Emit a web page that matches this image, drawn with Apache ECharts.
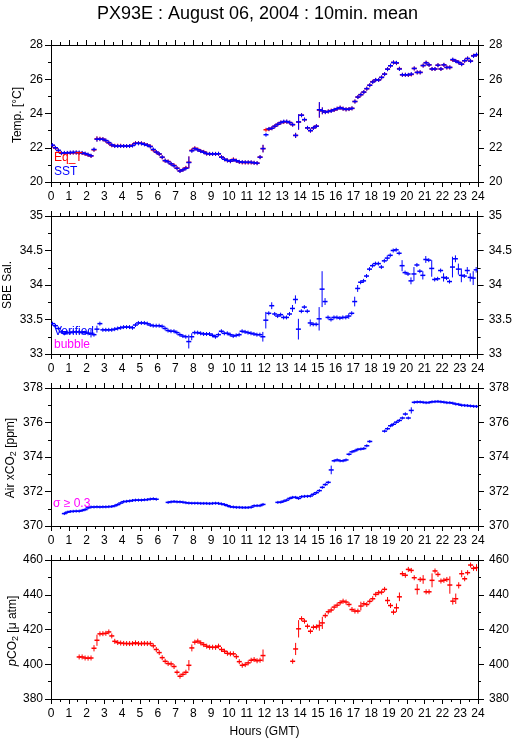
<!DOCTYPE html>
<html>
<head>
<meta charset="utf-8">
<script src="https://cdn.jsdelivr.net/npm/echarts@6/dist/echarts.min.js"></script>
<style>
html, body { margin: 0; padding: 0; background: #fff; }
#chart { width: 515px; height: 739px; }
</style>
</head>
<body>
<div id="chart"></div>
<script>
// 10 min means, 144 bins per day (bin i centred at (i + 0.5) / 6 h), null = no data
const sst = [
  22.15, 22.0, 21.85, 21.7, 21.7, 21.7, 21.72, 21.73, 21.73, 21.72, 21.7, 21.66,
  21.6, 21.53, 21.9, 22.5, 22.5, 22.5, 22.42, 22.3, 22.17, 22.1, 22.1, 22.1,
  22.1, 22.1, 22.1, 22.13, 22.25, 22.26, 22.25, 22.2, 22.15, 22.07, 21.9, 21.75,
  21.64, 21.45, 21.25, 21.18, 21.06, 20.95, 20.8, 20.64, 20.71, 20.8, 21.14, 21.82,
  21.95, 21.88, 21.8, 21.74, 21.66, 21.64, 21.64, 21.64, 21.65, 21.45, 21.33, 21.26,
  21.22, 21.3, 21.24, 21.18, 21.16, 21.15, 21.15, 21.15, 21.12, 21.1, 21.45, 21.95,
  22.76, 23.1, 23.14, 23.26, 23.37, 23.47, 23.53, 23.53, 23.47, 23.35, 22.72, 23.51,
  23.9, 23.64, 23.16, 23.0, 23.16, 23.26, 24.22, 24.16, 24.08, 24.12, 24.15, 24.22,
  24.28, 24.34, 24.28, 24.24, 24.26, 24.3, 24.7, 24.96, 25.1, 25.25, 25.45, 25.65,
  25.84, 25.96, 25.96, 26.11, 26.3, 26.59, 26.79, 26.98, 26.96, 26.6, 26.26, 26.26,
  26.26, 26.3, 26.63, 26.4, 26.4, 26.8, 26.96, 26.84, 26.6, 26.6, 26.82, 26.6,
  26.84, 26.69, 26.69, 27.15, 27.06, 26.98, 26.88, 27.08, 27.21, 27.06, 27.36, 27.44
];
const eqT = [
  22.13, 21.98, 21.83, 21.68, 21.67, 21.68, 21.7, 21.71, 21.71, 21.7, 21.69, 21.64,
  21.58, 21.52, 21.88, 22.52, 22.53, 22.5, 22.41, 22.28, 22.14, 22.12, 22.12, 22.12,
  22.1, 22.1, 22.1, 22.15, 22.27, 22.27, 22.26, 22.21, 22.16, 22.08, 21.87, 21.74,
  21.63, 21.44, 21.24, 21.2, 21.06, 20.97, 20.81, 20.65, 20.72, 20.83, 21.15, 21.85,
  21.97, 21.9, 21.81, 21.76, 21.66, 21.64, 21.64, 21.64, 21.64, 21.46, 21.33, 21.26,
  21.21, 21.32, 21.24, 21.17, 21.14, 21.14, 21.14, 21.14, 21.12, 21.1, 21.45, 21.95,
  23.05, 23.08, 23.14, 23.26, 23.37, 23.47, 23.5, 23.52, 23.47, 23.35, 22.72, 23.5,
  23.9, 23.64, 23.16, 23.0, 23.16, 23.26, 24.2, 24.15, 24.08, 24.12, 24.17, 24.2,
  24.28, 24.34, 24.28, 24.24, 24.26, 24.3, 24.7, 24.96, 25.1, 25.25, 25.45, 25.65,
  25.86, 25.96, 25.96, 26.11, 26.3, 26.59, 26.79, 26.98, 26.94, 26.62, 26.26, 26.26,
  26.25, 26.28, 26.63, 26.4, 26.4, 26.8, 26.97, 26.84, 26.6, 26.6, 26.82, 26.6,
  26.84, 26.69, 26.69, 27.12, 27.07, 26.98, 26.88, 27.08, 27.21, 27.06, 27.38, 27.43
];
const sal = [
  33.44, 33.41, 33.37, 33.32, 33.3, 33.31, 33.31, 33.32, 33.32, 33.32, 33.31, 33.31,
  33.3, 33.3, 33.28, 33.36, 33.44, 33.35, 33.35, 33.35, 33.35, 33.36, 33.37, 33.38,
  33.39, 33.39, 33.39, 33.38, 33.42, 33.45, 33.45, 33.45, 33.44, 33.42, 33.41, 33.41,
  33.41, 33.4, 33.37, 33.34, 33.33, 33.33, 33.31, 33.28, 33.26, 33.25, 33.18, 33.25,
  33.31, 33.31, 33.3, 33.29, 33.29, 33.29, 33.27, 33.25, 33.28, 33.33, 33.3, 33.3,
  33.28, 33.26, 33.27, 33.28, 33.33, 33.32, 33.31, 33.3, 33.29, 33.28, 33.28, 33.25,
  33.49, 33.59, 33.7, 33.58, 33.55, 33.57, 33.53, 33.53, 33.58, 33.66, 33.79, 33.36,
  33.62, 33.68, 33.62, 33.45, 33.43, 33.43, 33.51, 33.94, 33.76, 33.53, 33.5, 33.53,
  33.53, 33.52, 33.53, 33.53, 33.55, 33.59, 33.76, 33.95, 34.04, 34.06, 34.13, 34.23,
  34.28, 34.31, 34.31, 34.26, 34.35, 34.39, 34.43, 34.5, 34.51, 34.46, 34.28, 34.18,
  34.16, 34.06, 34.16, 34.29, 34.2, 34.14, 34.37, 34.36, 34.24, 34.08, 34.09, 34.21,
  34.11, 34.1, 34.05, 34.26, 34.38, 34.23, 34.14, 34.13, 34.21, 34.11, 34.1, 34.22
];
const airCO2 = [
  null, null, null, null, 370.72, 370.8, 370.84, 370.85, 370.86, 370.86, 370.9, 370.95,
  371.05, 371.1, 371.1, 371.11, 371.1, 371.11, 371.11, 371.12, 371.13, 371.17, 371.24, 371.33,
  371.41, 371.43, 371.45, 371.48, 371.5, 371.5, 371.5, 371.52, 371.53, 371.56, 371.58, 371.55,
  null, null, null, 371.37, 371.4, 371.42, 371.4, 371.4, 371.38, 371.35, 371.33, 371.32,
  371.32, 371.32, 371.31, 371.31, 371.31, 371.3, 371.31, 371.32, 371.31, 371.28, 371.24, 371.18,
  371.12, 371.1, 371.08, 371.08, 371.07, 371.07, 371.07, 371.09, 371.17, 371.18, 371.18, 371.25,
  null, null, null, null, 371.37, 371.38, 371.44, 371.5, 371.6, 371.66, 371.66, 371.6,
  371.7, 371.72, 371.72, 371.74, 371.84, 371.93, 372.05, 372.24, 372.4, 372.53, 373.25, 373.78,
  373.83, 373.78, 373.78, 373.83, 374.16, 374.3, 374.36, 374.44, 374.46, 374.49, 374.65, 374.9,
  null, null, null, null, 375.5, 375.64, 375.81, 375.9, 376.02, 376.12, 376.26, 376.49,
  376.26, 376.7, 377.17, 377.19, 377.19, 377.17, 377.15, 377.16, 377.2, 377.21, 377.22, 377.2,
  377.18, 377.15, 377.15, 377.12, 377.07, 377.05, 377.0, 376.99, 376.98, 376.96, 376.94, 376.93
];
const pCO2 = [
  null, null, null, null, null, null, null, null, null, 404.2, 404.2, 403.6,
  403.5, 403.6, 409.2, 413.8, 417.5, 417.6, 417.8, 418.6, 416.3, 413.2, 412.5, 412.2,
  412.0, 411.9, 411.9, 411.9, 412.3, 411.9, 411.9, 412.0, 411.9, 411.9, 410.6, 408.5,
  406.7, 403.8, 401.7, 400.4, 400.2, 398.7, 395.4, 393.1, 394.2, 395.4, 399.4, 409.4,
  412.7, 413.3, 412.3, 411.3, 410.4, 409.8, 409.8, 409.7, 410.4, 408.5, 407.5, 406.3,
  406.0, 406.0, 404.4, 401.5, 399.4, 399.8, 400.8, 402.3, 402.7, 402.0, 402.3, 405.0,
  null, null, null, null, null, null, null, null, null, 401.7, 408.8, 420.4,
  426.2, 424.8, 421.9, 419.0, 421.3, 421.5, 422.3, 423.8, 428.0, 430.2, 431.2, 432.9,
  434.0, 435.4, 436.3, 435.8, 434.4, 431.5, 430.6, 430.6, 433.5, 434.8, 434.4, 436.2,
  437.7, 440.2, 441.2, 441.5, 443.1, 436.7, 433.8, 430.0, 432.5, 438.8, 452.1, 451.2,
  454.6, 454.0, 449.8, 443.1, 448.8, 448.8, 441.7, 441.7, 448.3, 453.7, 451.7, 447.9,
  448.3, 448.8, 445.6, 436.3, 437.7, 445.4, 452.1, 449.2, 452.7, 457.1, 455.2, 455.6
];
// standard deviations big enough to show, by bin index
const sstSd = {15: 0.15, 46: 0.35, 71: 0.22, 73: 0.1, 82: 0.15, 83: 0.45, 85: 0.12, 90: 0.45, 91: 0.2};
const salSd = {13: 0.06, 15: 0.05, 46: 0.1, 47: 0.05, 71: 0.07, 72: 0.12, 74: 0.05, 81: 0.05, 82: 0.06,
  83: 0.15, 87: 0.05, 90: 0.17, 91: 0.26, 92: 0.05, 100: 0.04, 102: 0.07, 103: 0.05, 113: 0.04,
  118: 0.08, 121: 0.05, 122: 0.1, 125: 0.06, 126: 0.05, 128: 0.12, 132: 0.06, 135: 0.15, 136: 0.05,
  137: 0.08, 138: 0.1, 140: 0.05, 141: 0.06, 142: 0.1, 143: 0.04};
const airSd = {94: 0.25, 119: 0.1, 121: 0.18};
const pco2Sd = {14: 1.8, 15: 3.2, 46: 3, 47: 2, 71: 3.5, 82: 3.5, 83: 5, 90: 3, 91: 3.5, 104: 2.5,
  113: 2, 115: 1.5, 116: 2.5, 117: 2.5, 123: 3, 125: 2.5, 128: 4, 134: 5, 135: 2, 136: 3, 137: 1.8,
  138: 2, 143: 2};

const hours = sst.map((v, i) => (i + 0.5) / 6);

const yRanges = [[20, 28, 2], [33, 35, 0.5], [370, 378, 2], [380, 460, 20]];
const gridTops = [45, 216, 388, 560];
const gridHeights = [137, 138, 138, 139];

const FONT = 'Liberation Sans, Arial, Helvetica, sans-serif';
const BLUE = '#0000ff', RED = '#ff0000', MAGENTA = '#ff00ff';

function toData(vals, sd) {
  const out = [];
  vals.forEach((v, i) => {
    if (v !== null) out.push([hours[i], v, sd[i] || 0]);
  });
  return out;
}

function crossRender(minHalf) {
  return function (params, api) {
    const x = api.value(0), y = api.value(1), sd = api.value(2);
    const c = api.coord([x, y]);
    const top = api.coord([x, y + sd])[1];
    const bot = api.coord([x, y - sd])[1];
    const dy = Math.max(minHalf, (bot - top) / 2);
    const color = api.visual('color');
    return {
      type: 'group',
      children: [
        {type: 'line', shape: {x1: c[0] - 2.5, y1: c[1], x2: c[0] + 2.5, y2: c[1]},
          style: {stroke: color, lineWidth: 1.5}},
        {type: 'line', shape: {x1: c[0], y1: c[1] - dy, x2: c[0], y2: c[1] + dy},
          style: {stroke: color, lineWidth: 1}}
      ]
    };
  };
}

const grids = [], xAxes = [], yAxes = [];
// y axis titles: text and centre position
const axisNames = [
  'Temp. [°C]',
  'SBE Sal.',
  'Air xCO{sub|2} [ppm]',
  '{it|p}CO{sub|2} [μ atm]'
];
const namePos = [[17.5, 115], [7.5, 285], [10.5, 458], [12.5, 631]];
const richName = {
  sub: {fontSize: 9, lineHeight: 9, verticalAlign: 'bottom', fontFamily: FONT, fill: '#000'},
  it: {fontSize: 13, fontStyle: 'italic', fontFamily: FONT, fill: '#000'}
};

for (let g = 0; g < 4; g++) {
  grids.push({left: 51, width: 427, top: gridTops[g], height: gridHeights[g]});
  const xBase = {
    type: 'value', gridIndex: g, min: 0, max: 24, interval: 1,
    axisLine: {show: true, onZero: false, lineStyle: {color: '#000', width: 1}},
    axisTick: {show: true, inside: false, length: 5, lineStyle: {color: '#000'}},
    minorTick: {show: true, splitNumber: 2, length: 3, lineStyle: {color: '#000'}},
    splitLine: {show: false}
  };
  xAxes.push(Object.assign({}, xBase, {
    position: 'bottom',
    axisLabel: {show: true, fontSize: 12, color: '#000', fontFamily: FONT, margin: 9},
    name: g === 3 ? 'Hours (GMT)' : '', nameLocation: 'middle', nameGap: 27,
    nameTextStyle: {fontSize: 12, color: '#000', fontFamily: FONT}
  }));
  xAxes.push(Object.assign({}, xBase, {position: 'top', axisLabel: {show: false}}));
  const r = yRanges[g];
  const yBase = {
    type: 'value', gridIndex: g, min: r[0], max: r[1], interval: r[2],
    axisLine: {show: true, onZero: false, lineStyle: {color: '#000', width: 1}},
    axisTick: {show: true, inside: false, length: 6, lineStyle: {color: '#000'}},
    minorTick: {show: true, splitNumber: 2, length: 3, lineStyle: {color: '#000'}},
    splitLine: {show: false}
  };
  yAxes.push(Object.assign({}, yBase, {
    position: 'left',
    axisLabel: {fontSize: 12, color: '#000', fontFamily: FONT, margin: 8}
  }));
  yAxes.push(Object.assign({}, yBase, {
    position: 'right',
    axisLabel: {fontSize: 12, color: '#000', fontFamily: FONT, margin: 11}
  }));
}

function crossSeries(name, g, vals, sd, color, minHalf) {
  return {
    name: name, type: 'custom', xAxisIndex: 2 * g, yAxisIndex: 2 * g,
    renderItem: crossRender(minHalf), itemStyle: {color: color},
    data: toData(vals, sd), clip: true, silent: true, animation: false
  };
}

function label(text, x, y, color) {
  return {type: 'text', left: x, top: y, z: 100,
    style: {text: text, fill: color, font: '12px ' + FONT}};
}

const graphics = [
  label('Eq_T', 54, 152, RED),
  label('SST', 54, 166, BLUE),
  label('Verified', 54, 326, BLUE),
  label('bubble', 54, 339, MAGENTA),
  label('σ ≥ 0.3', 53, 498, MAGENTA)
];
axisNames.forEach((t, g) => {
  graphics.push({
    type: 'text', x: namePos[g][0], y: namePos[g][1], rotation: Math.PI / 2, z: 100,
    style: {text: t, fill: '#000', font: '12px ' + FONT, align: 'center',
      verticalAlign: 'middle', lineHeight: 15, rich: richName}
  });
});

const chart = echarts.init(document.getElementById('chart'));
chart.setOption({
  animation: false,
  backgroundColor: '#fff',
  title: {
    text: 'PX93E : August 06, 2004 : 10min. mean', left: 'center', top: 0,
    textStyle: {fontSize: 18, fontWeight: 'normal', color: '#000', fontFamily: FONT}
  },
  grid: grids,
  xAxis: xAxes,
  yAxis: yAxes,
  series: [
    crossSeries('Eq_T', 0, eqT, sstSd, RED, 2),
    crossSeries('SST', 0, sst, sstSd, BLUE, 2),
    crossSeries('SBE Sal.', 1, sal, salSd, BLUE, 2),
    crossSeries('Air xCO2', 2, airCO2, airSd, BLUE, 1.5),
    crossSeries('pCO2', 3, pCO2, pco2Sd, RED, 2.5)
  ],
  graphic: graphics
});
</script>
</body>
</html>
